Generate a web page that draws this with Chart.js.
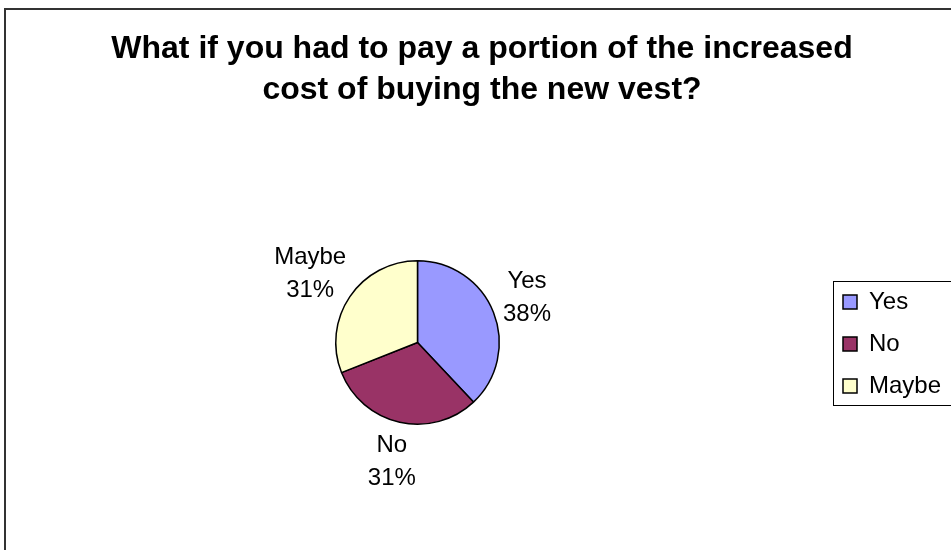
<!DOCTYPE html>
<html>
<head>
<meta charset="utf-8">
<title>New vest cost survey</title>
<script src="https://cdn.jsdelivr.net/npm/chart.js@4/dist/chart.umd.min.js"></script>
<style>
  html, body { margin: 0; padding: 0; background: #fff; }
  #surveyPie { display: block; }
</style>
</head>
<body>
<canvas id="surveyPie" width="951" height="550"></canvas>
<script>
// =============================================================================
// DATA
// =============================================================================
const titleLines = [
  "What if you had to pay a portion of the increased",
  "cost of buying the new vest?"
];
const categories = ["Yes", "No", "Maybe"];
const percents = [38, 31, 31];
const sliceColors = ["#9999FF", "#993366", "#FFFFCC"];

const FONT = "'Liberation Sans', Arial, sans-serif";
const LABEL_SIZE = 24;

// =============================================================================
// PLUGIN — outer frame + title
// =============================================================================
const framePlugin = {
  id: "frame",
  beforeDraw(chart) {
    const ctx = chart.ctx;
    ctx.save();
    ctx.fillStyle = "#fff";
    ctx.fillRect(0, 0, chart.width, chart.height);
    // frame runs a little past the right and bottom edges
    ctx.strokeStyle = "#333";
    ctx.lineWidth = 2;
    ctx.strokeRect(5, 9, 955, chart.height + 20);

    ctx.fillStyle = "#000";
    ctx.font = `bold 32px ${FONT}`;
    ctx.textAlign = "center";
    ctx.textBaseline = "alphabetic";
    ctx.fillText(titleLines[0], 482, 58);
    ctx.fillText(titleLines[1], 482, 99);
    ctx.restore();
  }
};

// =============================================================================
// PLUGIN — slice labels outside the pie
// =============================================================================
const sliceLabelPlugin = {
  id: "sliceLabels",
  afterDatasetsDraw(chart) {
    const ctx = chart.ctx;
    const meta = chart.getDatasetMeta(0);
    const lineGap = 33;
    ctx.save();
    ctx.fillStyle = "#000";
    ctx.font = `${LABEL_SIZE}px ${FONT}`;
    ctx.textAlign = "center";
    ctx.textBaseline = "middle";
    meta.data.forEach((arc, i) => {
      const p = arc.getProps(["x", "y", "startAngle", "endAngle", "outerRadius"], true);
      const mid = (p.startAngle + p.endAngle) / 2;
      const dx = Math.cos(mid), dy = Math.sin(mid);
      const top = categories[i];
      const bottom = percents[i] + "%";
      const halfW = Math.max(ctx.measureText(top).width, ctx.measureText(bottom).width) / 2;
      const halfH = (lineGap + LABEL_SIZE) / 2;
      // anchor just outside the rim, then push the text box outward
      const ax = p.x + dx * (p.outerRadius + 12);
      const ay = p.y + dy * (p.outerRadius + 12);
      const cx = ax + dx * halfW;
      const cy = ay + dy * halfH;
      ctx.fillText(top, cx, cy - lineGap / 2);
      ctx.fillText(bottom, cx, cy + lineGap / 2);
    });
    ctx.restore();
  }
};

// =============================================================================
// PLUGIN — legend box (clipped at right edge)
// =============================================================================
const legendPlugin = {
  id: "boxLegend",
  afterDraw(chart) {
    const ctx = chart.ctx;
    const ds = chart.data.datasets[0];
    ctx.save();
    ctx.strokeStyle = "#000";
    ctx.lineWidth = 1;
    ctx.strokeRect(833.5, 281.5, 140, 124);

    ctx.font = `${LABEL_SIZE}px ${FONT}`;
    ctx.textBaseline = "middle";
    ctx.textAlign = "left";
    chart.data.labels.forEach((label, i) => {
      const y = 302 + i * 42;
      ctx.fillStyle = ds.backgroundColor[i];
      ctx.fillRect(843, y - 7, 14, 14);
      ctx.strokeStyle = "#000";
      ctx.lineWidth = 1.5;
      ctx.strokeRect(843, y - 7, 14, 14);
      ctx.fillStyle = "#000";
      ctx.fillText(label, 869, y);
    });
    ctx.restore();
  }
};

// =============================================================================
// CHART
// =============================================================================
new Chart(document.getElementById("surveyPie").getContext("2d"), {
  type: "pie",
  data: {
    labels: categories,
    datasets: [{
      data: percents,
      backgroundColor: sliceColors,
      borderColor: "#000",
      borderWidth: 1.5
    }]
  },
  options: {
    responsive: false,
    animation: false,
    layout: {
      padding: { left: 335, right: 451, top: 260, bottom: 125 }
    },
    plugins: {
      legend: { display: false },
      title: { display: false },
      tooltip: { enabled: false }
    }
  },
  plugins: [framePlugin, sliceLabelPlugin, legendPlugin]
});
</script>
</body>
</html>
